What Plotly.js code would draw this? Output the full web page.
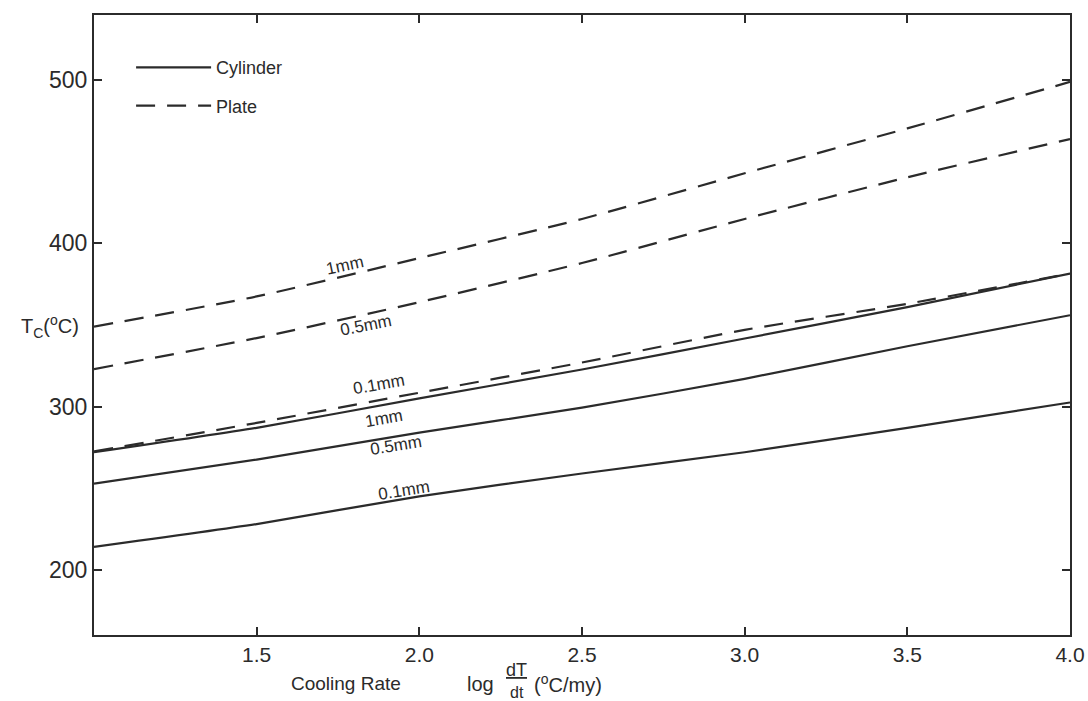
<!DOCTYPE html>
<html>
<head>
<meta charset="utf-8">
<script src="https://cdn.plot.ly/plotly-3.0.1.min.js"></script>
<style>
html,body{margin:0;padding:0;background:#fff;}
#chart{width:1088px;height:701px;}
</style>
</head>
<body>
<div id="chart"></div>
<script>
// Cooling rate, log dT/dt (°C/my)
const coolingRate = [1.0, 1.5, 2.0, 2.5, 3.0, 3.5, 4.0];
// Closure temperature Tc (°C)
const plate1mm    = [349, 367.5, 391, 415, 443, 470.5, 499];
const plate05mm   = [323, 342, 364, 388, 415, 440.5, 464];
const plate01mm   = [272.5, 290, 308.5, 327, 347, 363, 381.5];
const cyl1mm      = [272, 287, 305, 322.7, 341.7, 361, 381.5];
const cyl05mm     = [252.8, 267.5, 284, 299.4, 317, 337, 356];
const cyl01mm     = [214, 228, 245, 259, 272, 287, 302.5];

const xTickVals = [1.5, 2.0, 2.5, 3.0, 3.5, 4.0];
const xTickText = ["1.5", "2.0", "2.5", "3.0", "3.5", "4.0"];
const yTickVals = [200, 300, 400, 500];
const yTickText = ["200", "300", "400", "500"];

// curve labels: [text, x, y, angle]
const curveLabels = [
  ["1mm",   1.77,  386.5, -12],
  ["0.5mm", 1.835, 349.7, -11],
  ["0.1mm", 1.875, 313.5, -10],
  ["1mm",   1.89,  293.0, -10],
  ["0.5mm", 1.928, 276.0, -9],
  ["0.1mm", 1.952, 248.5, -9]
];

const ink = '#2b2b2b';
const dashPat = '19px,12px';
function tr(y, dashed, show) {
  return {
    x: coolingRate, y: y, type: 'scatter', mode: 'lines',
    name: dashed ? 'Plate' : 'Cylinder',
    legendgroup: dashed ? 'plate' : 'cyl',
    showlegend: show,
    line: {color: ink, width: 2.2, dash: dashed ? dashPat : 'solid', shape: 'spline', smoothing: 0.6},
    hoverinfo: 'x+y'
  };
}
const data = [
  tr(cyl01mm, false, true),
  tr(cyl05mm, false, false),
  tr(cyl1mm, false, false),
  tr(plate1mm, true, true),
  tr(plate05mm, true, false),
  tr(plate01mm, true, false)
];

const font = 'Arial, "Liberation Sans", Helvetica, sans-serif';
const annotations = curveLabels.map(l => ({
  text: l[0], x: l[1], y: l[2], xref: 'x', yref: 'y', showarrow: false,
  textangle: l[3], font: {family: font, size: 17, color: ink}
}));
annotations.push(
  {text: 'T<sub>C</sub>(<sup>o</sup>C)', xref: 'paper', yref: 'paper', x: -0.045, y: 0.497,
   xanchor: 'center', yanchor: 'middle', showarrow: false, font: {family: font, size: 20, color: ink}},
  {text: 'Cooling Rate', xref: 'paper', yref: 'paper', x: 0.2, y: -0.079,
   xanchor: 'left', yanchor: 'middle', showarrow: false, font: {family: font, size: 19, color: ink}},
  {text: 'log', xref: 'paper', yref: 'paper', x: 0.38, y: -0.079,
   xanchor: 'left', yanchor: 'middle', showarrow: false, font: {family: font, size: 20, color: ink}},
  {text: '<u>dT</u>', xref: 'paper', yref: 'paper', x: 0.433, y: -0.057,
   xanchor: 'center', yanchor: 'middle', showarrow: false, borderpad: 0, font: {family: font, size: 18, color: ink}},
  {text: 'dt', xref: 'paper', yref: 'paper', x: 0.433, y: -0.092,
   xanchor: 'center', yanchor: 'middle', showarrow: false, borderpad: 0, font: {family: font, size: 16, color: ink}},
  {text: '(<sup>o</sup>C/my)', xref: 'paper', yref: 'paper', x: 0.449, y: -0.079,
   xanchor: 'left', yanchor: 'middle', showarrow: false, font: {family: font, size: 20, color: ink}}
);

const axisCommon = {
  showline: true, linecolor: ink, linewidth: 2, mirror: 'ticks',
  ticks: 'inside', ticklen: 8, tickwidth: 2, tickcolor: ink,
  showgrid: false, zeroline: false, tickmode: 'array'
};

const layout = {
  width: 1088, height: 701,
  paper_bgcolor: '#fff', plot_bgcolor: '#fff',
  margin: {l: 94, r: 18, t: 15, b: 66},
  xaxis: Object.assign({}, axisCommon, {range: [1.0, 4.0], tickvals: xTickVals, ticktext: xTickText,
    tickfont: {family: font, size: 21, color: ink}}),
  yaxis: Object.assign({}, axisCommon, {range: [160, 540], tickvals: yTickVals, ticktext: yTickText,
    tickfont: {family: font, size: 23, color: ink}}),
  showlegend: true,
  legend: {x: 0.038, y: 0.945, xanchor: 'left', yanchor: 'top', bgcolor: 'rgba(0,0,0,0)',
           traceorder: 'grouped', tracegroupgap: 12, itemwidth: 75,
           font: {family: font, size: 18, color: ink}},
  annotations: annotations
};

Plotly.newPlot('chart', data, layout, {displayModeBar: false, staticPlot: true});
</script>
</body>
</html>
